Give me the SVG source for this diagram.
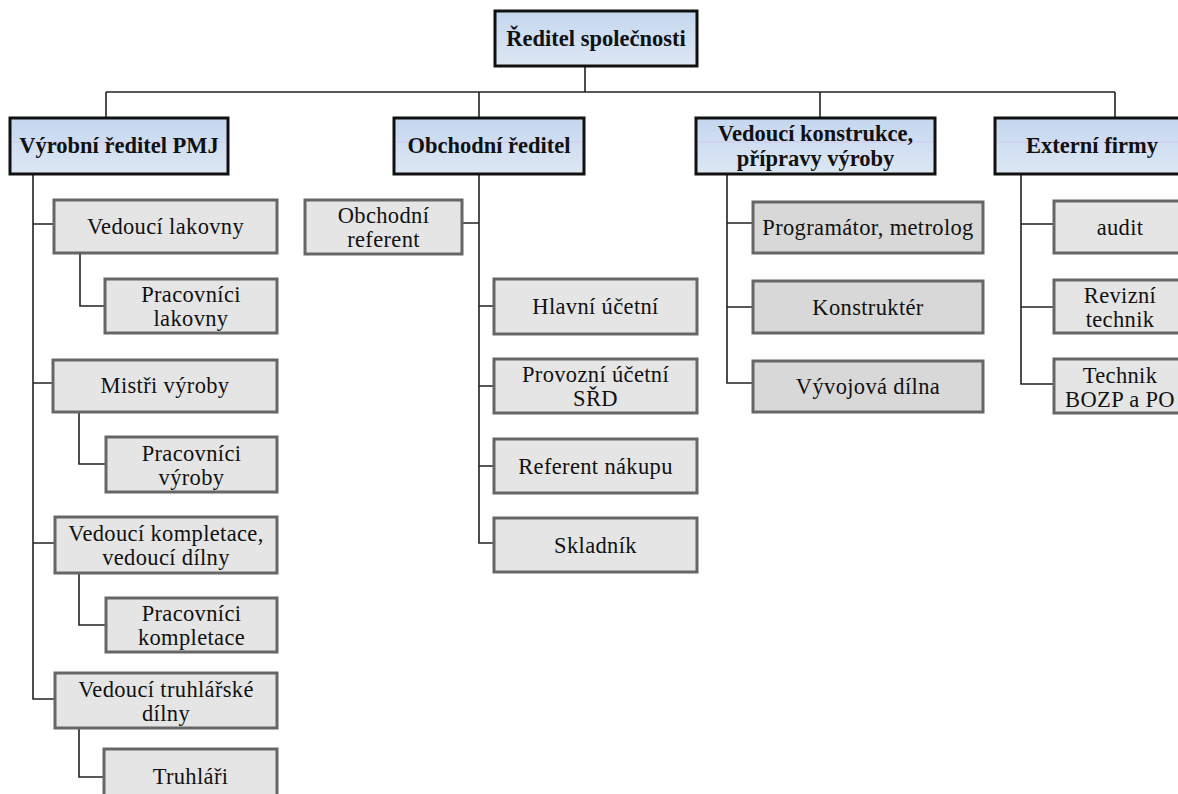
<svg xmlns="http://www.w3.org/2000/svg" width="1178" height="794" viewBox="0 0 1178 794">
  <defs>
    <linearGradient id="headFill" x1="0" y1="0" x2="0" y2="1">
      <stop offset="0" stop-color="#c4d7ef"/>
      <stop offset="1" stop-color="#dde7f3"/>
    </linearGradient>
    <style>
      text { font-family: "Liberation Serif", "Times New Roman", serif; font-size: 22.5px; fill: #111; text-anchor: middle; }
      .head rect { fill: url(#headFill); stroke: #111; stroke-width: 3; }
      .head text { font-weight: bold; }
      .head line { stroke: #d6c4ef; stroke-width: 1; }
      .unit rect { fill: #e5e5e5; stroke: #666; stroke-width: 3; }
      .unit text { letter-spacing: 0.35px; }
      .unit.dark rect { fill: #d8d8d8; }
      #connectors path { fill: none; stroke: #222; stroke-width: 1.6; }
    </style>
  </defs>
  <rect width="1178" height="794" fill="#ffffff"/>

  <!-- connectors -->
  <g id="connectors">
    <!-- director to top-level managers -->
    <path d="M585 66 V92 M106 92 H1115 M106 92 V118 M479 92 V118 M820 92 V118 M1115 92 V118"/>
    <!-- production branch -->
    <path d="M33 174 V699 H55 M33 224 H54 M33 383 H53 M33 543 H55"/>
    <path d="M80 253 V306 H105 M79 412 V464 H106 M79 573 V625 H106 M79 728 V777 H104"/>
    <!-- sales branch -->
    <path d="M479 174 V543 H494 M462 223 H479 M479 306 H494 M479 386 H494 M479 466 H494"/>
    <!-- design branch -->
    <path d="M727 174 V383 H753 M727 223 H753 M727 307 H753"/>
    <!-- external firms branch -->
    <path d="M1021 174 V384 H1054 M1021 224 H1054 M1021 307 H1054"/>
  </g>

  <!-- top -->
  <g id="reditel" class="head">
    <rect x="495" y="11" width="202" height="55"/>
    <text x="596" y="46">Ředitel společnosti</text>
  </g>

  <!-- level 1 -->
  <g id="vyrobni-reditel" class="head">
    <rect x="10" y="118" width="218" height="56"/>
    <line x1="12" y1="142" x2="226" y2="142"/>
    <text x="119" y="153">Výrobní ředitel PMJ</text>
  </g>
  <g id="obchodni-reditel" class="head">
    <rect x="394" y="118" width="190" height="56"/>
    <line x1="396" y1="142" x2="582" y2="142"/>
    <text x="489" y="153">Obchodní ředitel</text>
  </g>
  <g id="vedouci-konstrukce" class="head">
    <rect x="696" y="118" width="239" height="56"/>
    <line x1="698" y1="142" x2="933" y2="142"/>
    <text x="815.5" y="141">Vedoucí konstrukce,</text>
    <text x="815.5" y="166">přípravy výroby</text>
  </g>
  <g id="externi-firmy" class="head">
    <rect x="995" y="118" width="194" height="56"/>
    <line x1="997" y1="142" x2="1187" y2="142"/>
    <text x="1092" y="153">Externí firmy</text>
  </g>

  <!-- production -->
  <g id="vedouci-lakovny" class="unit">
    <rect x="54" y="200" width="223" height="53"/>
    <text x="165.5" y="234">Vedoucí lakovny</text>
  </g>
  <g id="pracovnici-lakovny" class="unit">
    <rect x="105" y="279" width="172" height="54"/>
    <text x="191" y="302">Pracovníci</text>
    <text x="191" y="326">lakovny</text>
  </g>
  <g id="mistri-vyroby" class="unit">
    <rect x="53" y="360" width="224" height="52"/>
    <text x="165" y="393">Mistři výroby</text>
  </g>
  <g id="pracovnici-vyroby" class="unit">
    <rect x="106" y="437" width="171" height="55"/>
    <text x="191.5" y="461">Pracovníci</text>
    <text x="191.5" y="485">výroby</text>
  </g>
  <g id="vedouci-kompletace" class="unit">
    <rect x="55" y="517" width="222" height="56"/>
    <text x="166" y="541">Vedoucí kompletace,</text>
    <text x="166" y="565">vedoucí dílny</text>
  </g>
  <g id="pracovnici-kompletace" class="unit">
    <rect x="106" y="598" width="171" height="54"/>
    <text x="191.5" y="621">Pracovníci</text>
    <text x="191.5" y="645">kompletace</text>
  </g>
  <g id="vedouci-truhlarske-dilny" class="unit">
    <rect x="55" y="673" width="222" height="55"/>
    <text x="166" y="697">Vedoucí truhlářské</text>
    <text x="166" y="721">dílny</text>
  </g>
  <g id="truhlari" class="unit">
    <rect x="104" y="749" width="173" height="54"/>
    <text x="190.5" y="784">Truhláři</text>
  </g>

  <!-- sales -->
  <g id="obchodni-referent" class="unit">
    <rect x="305" y="200" width="157" height="54"/>
    <text x="383.5" y="223">Obchodní</text>
    <text x="383.5" y="247">referent</text>
  </g>
  <g id="hlavni-ucetni" class="unit">
    <rect x="494" y="279" width="203" height="55"/>
    <text x="595.5" y="314">Hlavní účetní</text>
  </g>
  <g id="provozni-ucetni" class="unit">
    <rect x="494" y="359" width="203" height="54"/>
    <text x="595.5" y="382">Provozní účetní</text>
    <text x="595.5" y="406">SŘD</text>
  </g>
  <g id="referent-nakupu" class="unit">
    <rect x="494" y="439" width="203" height="54"/>
    <text x="595.5" y="474">Referent nákupu</text>
  </g>
  <g id="skladnik" class="unit">
    <rect x="494" y="518" width="203" height="54"/>
    <text x="595.5" y="553">Skladník</text>
  </g>

  <!-- design and production preparation -->
  <g id="programator" class="unit dark">
    <rect x="753" y="202" width="230" height="51"/>
    <text x="868" y="235">Programátor, metrolog</text>
  </g>
  <g id="konstrukter" class="unit dark">
    <rect x="753" y="281" width="230" height="52"/>
    <text x="868" y="315">Konstruktér</text>
  </g>
  <g id="vyvojova-dilna" class="unit dark">
    <rect x="753" y="361" width="230" height="51"/>
    <text x="868" y="394">Vývojová dílna</text>
  </g>

  <!-- external firms -->
  <g id="audit" class="unit">
    <rect x="1054" y="201" width="134" height="52"/>
    <text x="1120" y="235">audit</text>
  </g>
  <g id="revizni-technik" class="unit">
    <rect x="1054" y="280" width="134" height="53"/>
    <text x="1120" y="303">Revizní</text>
    <text x="1120" y="327">technik</text>
  </g>
  <g id="technik-bozp" class="unit">
    <rect x="1054" y="359" width="134" height="54"/>
    <text x="1120" y="383">Technik</text>
    <text x="1120" y="407">BOZP a PO</text>
  </g>
</svg>
